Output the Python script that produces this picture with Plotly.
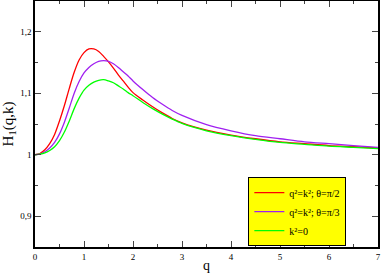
import plotly.graph_objects as go

q = [0, 0.1, 0.2, 0.3, 0.4, 0.5, 0.6, 0.7, 0.8, 0.9, 1.0, 1.1, 1.2, 1.3, 1.4, 1.5, 1.6, 1.7, 1.8, 1.9,
     2.0, 2.2, 2.4, 2.6, 2.8, 3.0, 3.5, 4.0, 4.5, 5.0, 5.5, 6.0, 6.5, 7.0]
h_red = [1.000, 1.002, 1.008, 1.018, 1.033, 1.055, 1.080, 1.108, 1.134, 1.154, 1.166, 1.172, 1.172,
         1.168, 1.160, 1.151, 1.141, 1.130, 1.120, 1.110, 1.101, 1.089, 1.078, 1.068, 1.059, 1.052,
         1.040, 1.032, 1.026, 1.021, 1.018, 1.015, 1.013, 1.011]
h_purple = [1.000, 1.001, 1.005, 1.011, 1.020, 1.034, 1.053, 1.076, 1.100, 1.119, 1.133, 1.142, 1.148,
            1.152, 1.153, 1.152, 1.148, 1.142, 1.135, 1.128, 1.120, 1.106, 1.093, 1.082, 1.072, 1.064,
            1.049, 1.039, 1.031, 1.026, 1.021, 1.018, 1.015, 1.012]
h_green = [1.000, 1.001, 1.003, 1.007, 1.013, 1.023, 1.037, 1.055, 1.075, 1.092, 1.105, 1.113, 1.118,
           1.121, 1.122, 1.120, 1.117, 1.112, 1.107, 1.101, 1.096, 1.085, 1.075, 1.066, 1.058, 1.051,
           1.039, 1.031, 1.025, 1.020, 1.017, 1.014, 1.012, 1.010]

names = ["q²=k²; θ=π/2", "q²=k²; θ=π/3", "k²=0"]
colors = ["#ff0000", "#a020f0", "#00ff00"]
series = [h_red, h_purple, h_green]

y_tickvals = [0.9, 1.0, 1.1, 1.2]
y_ticktext = ["0,9", "1", "1,1", "1,2"]
x_tickvals = [0, 1, 2, 3, 4, 5, 6, 7]

fig = go.Figure()
for s, n, c in zip(series, names, colors):
    fig.add_trace(go.Scatter(x=q, y=s, name=n, mode="lines",
                             line=dict(color=c, width=1.3, shape="spline", smoothing=0.8)))

font = "Liberation Serif, Times New Roman, serif"
axis_common = dict(showline=True, linecolor="black", linewidth=1.5, mirror="allticks",
                   ticks="inside", ticklen=6, tickwidth=1, tickcolor="#444",
                   showgrid=False, zeroline=False, automargin=False,
                   tickfont=dict(family=font, size=9, color="black"))

fig.update_layout(
    width=382, height=273,
    margin=dict(l=35, r=4, t=1, b=26, autoexpand=False),
    paper_bgcolor="white", plot_bgcolor="white",
    font=dict(family=font, color="black"),
    xaxis=dict(range=[0, 7], tickvals=x_tickvals,
               title=dict(text="q", font=dict(family=font, size=14), standoff=0),
               minor=dict(ticks="inside", ticklen=3, dtick=0.5, tick0=0, tickcolor="#444", showgrid=False),
               **axis_common),
    yaxis=dict(range=[0.85, 1.25], tickvals=y_tickvals, ticktext=y_ticktext,
               title=dict(text="H<sub>1</sub>(q,k)", font=dict(family=font, size=15), standoff=5),
               minor=dict(ticks="inside", ticklen=3, tickmode="linear", dtick=0.05, tick0=0.85,
                          tickcolor="#444", showgrid=False),
               **axis_common),
    legend=dict(x=0.622, y=0.284, xanchor="left", yanchor="top",
                bgcolor="#ffff00", bordercolor="black", borderwidth=1,
                font=dict(family=font, size=10, color="black"),
                itemwidth=30, tracegroupgap=0),
    showlegend=True,
)

fig.write_html("out.html", config={"displayModeBar": False},
               post_script="document.body.style.margin='0';document.body.style.overflow='hidden';")
